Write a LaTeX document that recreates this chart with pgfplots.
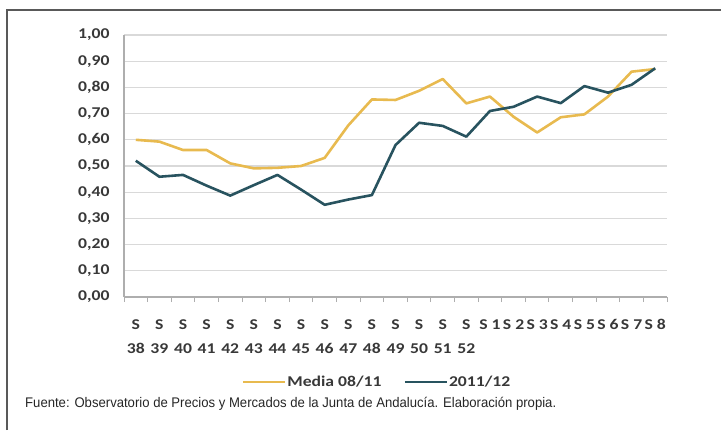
\documentclass[border=0pt]{standalone}
\usepackage{pgfplots}
\pgfplotsset{compat=1.18}
\usepackage{fontspec}
\usepackage{graphicx}
\setmainfont{Liberation Sans}
\newfontfamily\chartfont{Carlito}[FakeStretch=1.18]

\definecolor{mediaY}{HTML}{E8BA4F}
\definecolor{seasonB}{HTML}{28535F}
\definecolor{gridG}{HTML}{D9D9D9}
\definecolor{labelG}{HTML}{383838}

% weekly averages: idx, Media 08/11, campaign 2011/12
\pgfplotstableread{
idx media season
0  0.600 0.520
1  0.593 0.459
2  0.561 0.466
3  0.561 0.425
4  0.510 0.387
5  0.491 0.427
6  0.493 0.466
7  0.500 0.410
8  0.531 0.352
9  0.655 0.372
10 0.754 0.389
11 0.752 0.580
12 0.787 0.665
13 0.832 0.653
14 0.739 0.612
15 0.765 0.710
16 0.688 0.726
17 0.628 0.765
18 0.686 0.740
19 0.697 0.805
20 0.765 0.780
21 0.860 0.810
22 0.870 0.873
}\weekdata

\begin{document}
\begin{tikzpicture}[x=1bp,y=1bp]
\useasboundingbox (0,0) rectangle (721,430);
\draw[line width=1.5bp, color=black!65] (7,0) -- (7,420) -- (721,420);
\begin{axis}[
  at={(124bp,133bp)}, anchor=south west,
  scale only axis, width=543bp, height=262bp,
  xmin=-0.5, xmax=22.5, ymin=0, ymax=1,
  axis lines*=left,
  axis line style={color=gridG!80!black, line width=1.2bp},
  ytick={0,0.1,...,1.0},
  xtick={0,...,22},
  xticklabels={{S\\38},{S\\39},{S\\40},{S\\41},{S\\42},{S\\43},{S\\44},{S\\45},{S\\46},{S\\47},{S\\48},{S\\49},{S\\50},{S\\51},{S\\52},{S 1},{S 2},{S 3},{S 4},{S 5},{S 6},{S 7},{S 8}},
  minor xtick={-0.5,0.5,...,22.5},
  major tick length=0pt,
  minor tick length=5bp,
  tick align=outside,
  minor tick style={color=gridG!80!black, line width=1bp},
  ymajorgrids,
  grid style={color=gridG, line width=1.3bp},
  /pgf/number format/assume math mode=true,
  y tick label style={/pgf/number format/fixed, /pgf/number format/fixed zerofill,
    /pgf/number format/precision=2, /pgf/number format/use comma,
    font=\chartfont\bfseries\fontsize{15}{18}\selectfont, text=labelG, xshift=-11bp},
  x tick label style={align=center, font=\chartfont\bfseries\fontsize{15}{24}\selectfont,
    text=labelG, yshift=-19bp, inner xsep=0pt},
  legend style={at={(0.465,-0.324)}, anchor=center, draw=none, fill=none,
    legend columns=2, font=\chartfont\bfseries\fontsize{15}{18}\selectfont, text=labelG,
    /tikz/every even column/.append style={column sep=21bp},
    nodes={inner xsep=1bp}},
  legend image code/.code={\draw[#1] (0bp,0bp) -- (42bp,0bp);},
]
\addplot[color=mediaY, line width=2.6bp, line join=round] table[x=idx, y=media] {\weekdata};
\addlegendentry{Media 08/11}
\addplot[color=seasonB, line width=2.6bp, line join=round] table[x=idx, y=season] {\weekdata};
\addlegendentry{2011/12}
\end{axis}
\node[anchor=base west, inner sep=0pt, text=black!85, font=\fontsize{14}{16}\selectfont] at (25,23)
  {\resizebox{531bp}{\height}{Fuente: Observatorio de Precios y Mercados de la Junta de Andalucía. Elaboración propia.}};
\end{tikzpicture}
\end{document}
